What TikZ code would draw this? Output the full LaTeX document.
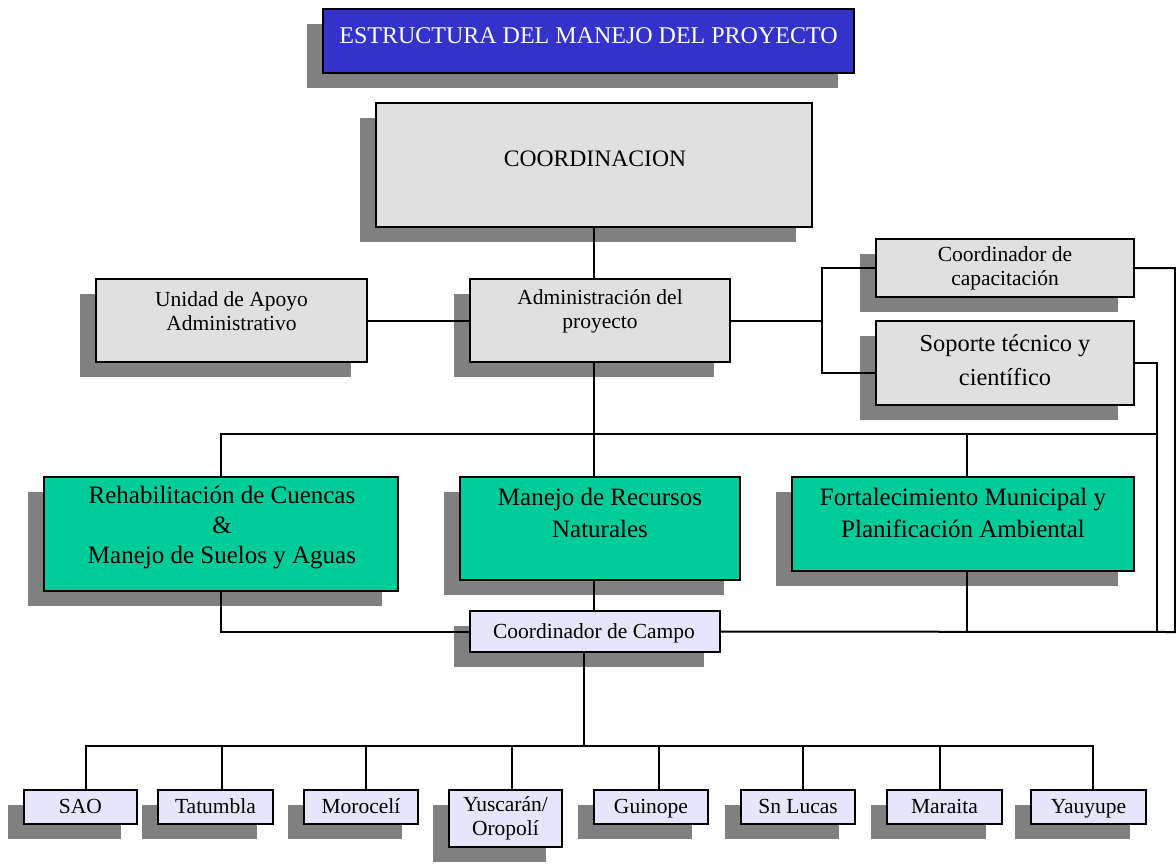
\documentclass[tikz,border=0pt]{standalone}
\usepackage{fontspec}
\setmainfont{Liberation Serif}
\usetikzlibrary{shadows}
\definecolor{titleblue}{HTML}{3333CC}
\definecolor{boxgray}{HTML}{E0E0E0}
\definecolor{boxgreen}{HTML}{00CC99}
\definecolor{boxlav}{HTML}{E6E6FA}
\definecolor{shgray}{HTML}{808080}
\tikzset{
  shd/.style={drop shadow={shadow xshift=-16pt, shadow yshift=-15pt, fill=shgray, opacity=1}},
  basebox/.style={shd, draw=black, line width=2pt, rectangle, inner sep=0pt},
  bluebox/.style={basebox, fill=titleblue},
  graybox/.style={basebox, fill=boxgray},
  greenbox/.style={basebox, fill=boxgreen},
  lavbox/.style={basebox, fill=boxlav},
  sz/.style 2 args={minimum width=#1pt, minimum height=#2pt},
  smalltxt/.style={align=center, inner sep=0pt, font=\fontsize{21.5}{24}\selectfont},
  onetxt/.style={anchor=base, inner sep=0pt, font=\fontsize{21.5}{24}\selectfont},
  bigtxt/.style={align=center, inner sep=0pt, font=\fontsize{25}{32}\selectfont},
  conn/.style={draw=black, line width=2pt},
}
\begin{document}
\begin{tikzpicture}[x=1pt,y=-1pt]
\useasboundingbox (0,0) rectangle (1176,863);
% boxes
\node[bluebox, sz={531}{64}] (title) at (588.5,41) {};
\node[graybox, sz={436}{124}] (coord) at (594,165) {};
\node[graybox, sz={271}{83}] (unidad) at (231.5,320.5) {};
\node[graybox, sz={260}{83}] (admin) at (600,320.5) {};
\node[graybox, sz={258}{58}] (capac) at (1005,268) {};
\node[graybox, sz={258}{84}] (soporte) at (1005,363) {};
\node[greenbox, sz={354}{114}] (rehab) at (221,534) {};
\node[greenbox, sz={280}{103}] (manejo) at (600,528.5) {};
\node[greenbox, sz={342}{94}] (fortal) at (963,524) {};
\node[lavbox, sz={250}{41}] (campo) at (595,631.5) {};
\node[lavbox, sz={113}{34}] (sao) at (80.5,807) {};
\node[lavbox, sz={115}{34}] (tatumbla) at (215.5,807) {};
\node[lavbox, sz={114}{34}] (moroceli) at (361,807) {};
\node[lavbox, sz={113}{57}] (yuscaran) at (505.5,818.5) {};
\node[lavbox, sz={114}{34}] (guinope) at (651,807) {};
\node[lavbox, sz={114}{34}] (snlucas) at (798,807) {};
\node[lavbox, sz={115}{34}] (maraita) at (944.5,807) {};
\node[lavbox, sz={115}{34}] (yauyupe) at (1088.5,807) {};
% texts
\node[inner sep=0pt, text=white, font=\fontsize{24}{28}\selectfont] (t-title) at (588.5,36) {ESTRUCTURA DEL MANEJO DEL PROYECTO};
\node[inner sep=0pt, font=\fontsize{23.6}{28}\selectfont] (t-coord) at (595,159) {COORDINACION};
\node[smalltxt] (t-unidad) at (231.5,311) {Unidad de Apoyo\\Administrativo};
\node[smalltxt] (t-admin) at (600,311) {Administración del\\proyecto};
\node[smalltxt] (t-capac) at (1005,268) {Coordinador de\\capacitación};
\node[bigtxt, font=\fontsize{24.4}{34}\selectfont] (t-soporte) at (1005,360) {Soporte técnico y\\científico};
\node[bigtxt, font=\fontsize{25}{30}\selectfont] (t-rehab) at (222,527) {Rehabilitación de Cuencas\\\&\\Manejo de Suelos y Aguas};
\node[bigtxt] (t-manejo) at (600,513) {Manejo de Recursos\\Naturales};
\node[bigtxt] (t-fortal) at (963,513) {Fortalecimiento Municipal y\\Planificación Ambiental};
\node[onetxt] (t-campo) at (594,638) {Coordinador de Campo};
\node[onetxt] (t-sao) at (80.5,813) {SAO};
\node[onetxt] (t-tatumbla) at (215.5,813) {Tatumbla};
\node[onetxt] (t-moroceli) at (361,813) {Morocelí};
\node[smalltxt] (t-yuscaran) at (505.5,818) {Yuscarán/\\Oropolí};
\node[onetxt] (t-guinope) at (651,813) {Guinope};
\node[onetxt] (t-snlucas) at (798,813) {Sn Lucas};
\node[onetxt] (t-maraita) at (944.5,813) {Maraita};
\node[onetxt] (t-yauyupe) at (1088.5,813) {Yauyupe};
% junction coordinates
\coordinate (jA) at (594,434);
\coordinate (jR) at (822,320.5);
\coordinate (jC) at (584,746);
% connectors
\draw[conn] (coord.south) -- (coord.south |- admin.north);
\draw[conn] (unidad.east) -- (admin.west);
\draw[conn] (admin.east) -- (jR);
\draw[conn] (capac.west) -| (822,373) -- (soporte.west |- 0,373);
\draw[conn] (coord.south |- admin.south) -- (jA);
\draw[conn] (rehab.north) |- (1157,434);
\draw[conn] (jA) -- (jA |- manejo.north);
\draw[conn] (967,434) -- (967,477);
\draw[conn] (soporte.east) -| (1157,632);
\draw[conn] (capac.east) -| (1175,632) -- (campo.east);
\draw[conn] (rehab.south) |- (campo.west);
\draw[conn] (967,571) -- (967,632);
\draw[conn] (594,580) -- (594,611);
\draw[conn] (584,652) -- (jC);
\draw[conn] (86,790) |- (1093,746) -- (1093,790);
\draw[conn] (222,746) -- (222,790);
\draw[conn] (366,746) -- (366,790);
\draw[conn] (512,746) -- (512,790);
\draw[conn] (659,746) -- (659,790);
\draw[conn] (803,746) -- (803,790);
\draw[conn] (940,746) -- (940,790);
\end{tikzpicture}
\end{document}
